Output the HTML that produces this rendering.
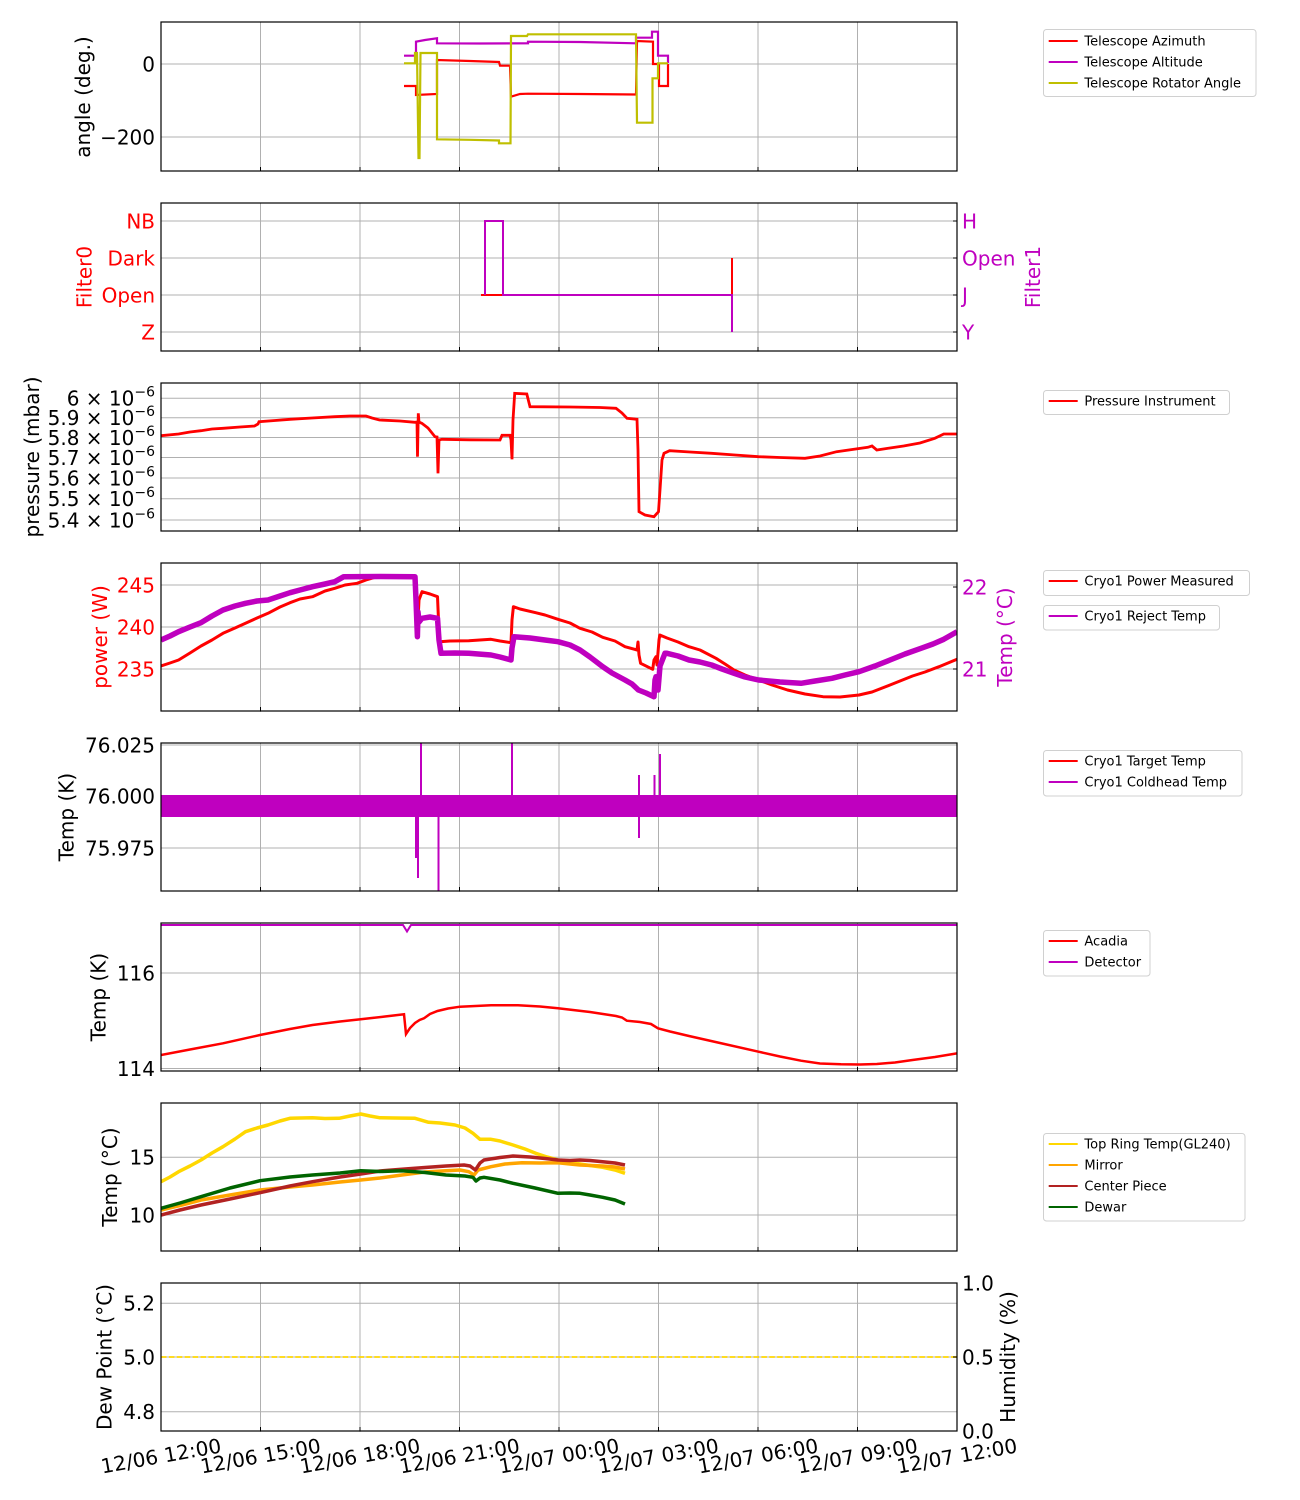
<!DOCTYPE html>
<html><head><meta charset="utf-8">
<style>
html,body{margin:0;padding:0;background:#fff;}
svg{display:block;font-family:"DejaVu Sans","Liberation Sans",sans-serif;}
.grid line{stroke:#b0b0b0;stroke-width:1;}
.frame{fill:none;stroke:#000;stroke-width:1.2;}
.tk{font-size:20px;}
.lg{font-size:13px;}
.lgbox{fill:#fff;stroke:#d0d0d0;stroke-width:1;}
</style></head>
<body>
<svg width="1300" height="1500" viewBox="0 0 1300 1500" xmlns="http://www.w3.org/2000/svg">
<defs>
<clipPath id="c1"><rect x="161" y="22" width="796" height="149"/></clipPath>
<clipPath id="c2"><rect x="161" y="203" width="796" height="148"/></clipPath>
<clipPath id="c3"><rect x="161" y="383" width="796" height="148"/></clipPath>
<clipPath id="c4"><rect x="161" y="563" width="796" height="148"/></clipPath>
<clipPath id="c5"><rect x="161" y="743" width="796" height="148"/></clipPath>
<clipPath id="c6"><rect x="161" y="923" width="796" height="148"/></clipPath>
<clipPath id="c7"><rect x="161" y="1103" width="796" height="148"/></clipPath>
<clipPath id="c8"><rect x="161" y="1283" width="796" height="148"/></clipPath>
</defs>
<rect width="1300" height="1500" fill="#fff"/>

<g class="grid">
<g id="vg">
<line x1="260.5" y1="22" x2="260.5" y2="171"/><line x1="360" y1="22" x2="360" y2="171"/><line x1="459.5" y1="22" x2="459.5" y2="171"/><line x1="559" y1="22" x2="559" y2="171"/><line x1="658.5" y1="22" x2="658.5" y2="171"/><line x1="758" y1="22" x2="758" y2="171"/><line x1="857.5" y1="22" x2="857.5" y2="171"/>
</g>
<use href="#vg" y="181"/><use href="#vg" y="361"/><use href="#vg" y="541"/><use href="#vg" y="721"/><use href="#vg" y="901"/><use href="#vg" y="1081"/><use href="#vg" y="1261"/>
<line x1="161" y1="64" x2="957" y2="64"/><line x1="161" y1="137" x2="957" y2="137"/>
<line x1="161" y1="221" x2="957" y2="221"/><line x1="161" y1="258" x2="957" y2="258"/><line x1="161" y1="295" x2="957" y2="295"/><line x1="161" y1="332" x2="957" y2="332"/>
<line x1="161" y1="398.3" x2="957" y2="398.3"/><line x1="161" y1="417.7" x2="957" y2="417.7"/><line x1="161" y1="437.5" x2="957" y2="437.5"/><line x1="161" y1="457.5" x2="957" y2="457.5"/><line x1="161" y1="478" x2="957" y2="478"/><line x1="161" y1="498.8" x2="957" y2="498.8"/><line x1="161" y1="520" x2="957" y2="520"/>
<line x1="161" y1="585" x2="957" y2="585"/><line x1="161" y1="627" x2="957" y2="627"/><line x1="161" y1="669" x2="957" y2="669"/>
<line x1="161" y1="745" x2="957" y2="745"/><line x1="161" y1="796" x2="957" y2="796"/><line x1="161" y1="848" x2="957" y2="848"/>
<line x1="161" y1="973" x2="957" y2="973"/><line x1="161" y1="1068.5" x2="957" y2="1068.5"/>
<line x1="161" y1="1157.3" x2="957" y2="1157.3"/><line x1="161" y1="1215" x2="957" y2="1215"/>
<line x1="161" y1="1303.3" x2="957" y2="1303.3"/><line x1="161" y1="1357" x2="957" y2="1357"/><line x1="161" y1="1411.7" x2="957" y2="1411.7"/>
</g>

<g clip-path="url(#c1)" fill="none" stroke-width="2.2" stroke-linejoin="miter">
<path stroke="#ff0000" d="M404,86 L416,86 L416,95 L437,94 L437,60 L470,61 L499,62 L500,65.7 L510,65.7 L511,96.7 L520,94 L528,93.7 L580,94 L636,94.5 L637,41 L653,41.7 L653,64 L659,64 L659,86 L668,86 L668,64"/>
<path stroke="#bf00bf" d="M404,55.7 L416,55.7 L416,41.7 L425,40 L437,38.3 L437,43.3 L480,43.5 L528,43.3 L528,41.7 L580,42 L636,43.3 L636,37.7 L652,37.7 L652,31.7 L658,31.7 L658,55.7 L668,55.7 L668,63"/>
<path stroke="#bfbf00" d="M404,63.3 L415,63.3 L415,53 L417,53 L418.5,158 L419.5,158 L420.5,53 L437,53 L437,139.3 L470,139.8 L499,140.5 L499,143.3 L510.5,143.3 L511,36 L527,36 L528,34.3 L636,34.3 L637,122.7 L652.5,122.7 L652.5,78.3 L658,78.3 L658,63.3 L668,63.3"/>
</g>

<g clip-path="url(#c2)" fill="none" stroke-width="2">
<path stroke="#ff0000" d="M481,295 L504,295 M732,295 L732,258"/>
<path stroke="#bf00bf" d="M485,295 L485,221 L503,221 L503,295 L732,295 L732,332"/>
</g>

<g clip-path="url(#c3)" fill="none" stroke-width="2.8">
<path stroke="#ff0000" d="M161,435.7 L178.6,434 L190,432 L201,430.7 L212,429 L223,428.3 L240,427 L254.5,426 L258,424 L259,421.7 L275,420.5 L290,419.3 L312,418 L334.8,416.7 L350,416 L366,416 L372,418 L379.5,420 L400,421 L415,422.3 L417,422 L417.5,456.7 L418.3,413.3 L419,422 L421.9,423.3 L428,428 L435,436.7 L437,437 L438,473.3 L439,440 L442,439.3 L470,439.8 L500,440 L502,435.3 L510,435.3 L511,440 L512,459.3 L513,420 L514.7,393.3 L526.8,394 L530,406.7 L570,407 L600,407.5 L616,408.3 L622,413 L627,418.3 L637,419.3 L638,450 L639,511.7 L645,515 L654,516.7 L658.5,511.7 L660,490 L662,460 L664,453.3 L669.6,450.7 L690,452 L711.6,453.3 L735,455 L758.5,456.7 L780,457.5 L805,458.3 L820,456 L836.6,451.7 L867.9,447.3 L872,446 L876.8,450 L890,448 L903.6,446 L920,443 L934.8,438.3 L943.8,434 L957,434"/>
</g>

<g clip-path="url(#c4)" fill="none" stroke-linejoin="round">
<path stroke="#ff0000" stroke-width="3" d="M161,666 L170,663 L178.6,660 L190,653 L201,646 L212,640 L223,633.3 L235,628 L245.5,623.3 L257,618 L268,613.3 L280,607 L290,602.7 L300,599 L312.5,596.7 L325,591 L334.8,588.3 L345,585 L357,583.3 L366,580 L375,577.3 L395,577 L415,576.7 L416,580 L417.4,633 L419,600 L422,591.7 L430,594 L437.5,596.7 L438.5,620 L439.7,641.7 L450,641 L468.75,640.7 L491,639.3 L500,641 L511,642.7 L512,620 L513.4,606.7 L520,609 L535.7,612.7 L545,615 L558,619.3 L570,623 L580,628.3 L592,632 L602.7,637.3 L615,641 L625,646.7 L637,650 L638,642 L639,655 L640.6,663.3 L652.7,669.3 L654,660 L656,656.7 L657,665 L659,640 L659.8,635 L667,638 L678,642 L689,646.7 L700,650 L716,658.3 L725,664 L734,670 L745,675 L758.5,680 L772,685 L787.5,690 L805,694 L823,696.7 L840,697 L859,695 L872,692 L890,685 L900,681 L912.5,676 L925,672 L939,666.7 L948,663 L957,659.3"/>
<path stroke="#bf00bf" stroke-width="5.5" d="M161,640 L170,636 L178.6,631.7 L190,627 L201,622.7 L212,616 L223,610 L235,606 L245.5,603.3 L257,601 L268,600 L280,596 L290,592.7 L300,590 L312.5,586.7 L325,584 L334.8,581.7 L343.75,576.7 L380,576.5 L415,576.7 L416,600 L417.4,636.7 L418,612 L419,622 L422,618.3 L430,617 L437.5,618.3 L439,640 L441,653.3 L455,653 L468.75,653.3 L491,655 L500,657 L511,660 L512,648 L514,636.7 L530,638 L545,640 L558,641.7 L570,645 L580,650 L590,657 L602.7,666.7 L612,673 L625,680 L632,684 L638.4,690 L646,693 L654,696.7 L655,680 L656,676.7 L658,690 L660,666 L665,653.3 L667,653.3 L678,656 L689,660 L700,662 L711.6,665 L722,669 L734,673.3 L745,677 L758.5,680 L780,682 L801,683.3 L815,681 L832,678.3 L845,675 L859,671.7 L875,666 L890,660 L905,654 L921,648.3 L933,644 L943.75,639.3 L957,631.7"/>
</g>

<g clip-path="url(#c5)">
<rect x="161" y="795" width="796" height="22" fill="#bf00bf"/>
<path fill="none" stroke="#bf00bf" stroke-width="2" d="M421,743 L421,795 M416,817 L416,858 M418,817 L418,878 M438.5,817 L438.5,891 M512,743 L512,795 M639,775 L639,795 M639,817 L639,838 M654.5,775 L654.5,795 M660,754 L660,795"/>
</g>

<g clip-path="url(#c6)" fill="none">
<path stroke="#ff0000" stroke-width="2.5" d="M161,1055 L190,1049.5 L223,1043.3 L260,1035 L290,1029 L312.5,1025 L340,1021.5 L360.7,1019.3 L385,1016.5 L404,1014.3 L406,1034 L410,1028 L415,1023 L419.6,1020 L424,1018.3 L430,1014 L437.5,1011 L448,1008.5 L460,1006.7 L491,1005.3 L518,1005.3 L540,1006.5 L558,1008.3 L590,1012 L616,1016 L622,1017.5 L626.8,1020.7 L640,1022 L651,1024 L658,1028.3 L670,1031.5 L689,1036 L720,1043 L758.5,1051.7 L780,1056.5 L801,1060.7 L820,1063.5 L841,1064.3 L860,1064.5 L876.8,1064 L895,1062.5 L912.5,1060 L935,1057 L957,1053.3"/>
<path stroke="#bf00bf" stroke-width="2" d="M161,925 L403,925 L407,931.5 L411,925 L957,925"/>
</g>

<g clip-path="url(#c7)" fill="none" stroke-width="3.5" stroke-linejoin="round">
<path stroke="#ffd700" d="M161,1181.7 L170,1177 L178.6,1171.7 L190,1166 L201,1160 L212,1153 L223,1146.7 L235,1139 L245.5,1131.7 L257,1128 L268,1125 L280,1121 L290,1118.3 L300,1118 L312.5,1117.7 L325,1118.5 L339,1118.3 L350,1116 L360.7,1114 L370,1116 L379.5,1117.7 L395,1118 L415,1118.3 L428.6,1122.3 L440,1123 L455,1125 L465,1128 L473,1133.3 L480,1139.3 L491,1139.3 L500,1141 L513,1145 L525,1149 L535.7,1153.3 L547,1157 L558,1160 L570,1162.5 L580,1164 L590,1165.5 L602.7,1167.3 L615,1170 L625,1173.3"/>
<path stroke="#ffa500" d="M161,1210 L180,1205.5 L201,1200 L230,1195 L260,1190 L290,1187 L312.5,1185 L340,1182 L360.7,1180 L380,1178 L401.8,1175 L425,1172 L446,1170.7 L460,1170 L468.75,1171.7 L474,1175 L478,1170 L491,1166.7 L505,1164 L522,1162.7 L540,1163 L558,1162.7 L570,1164 L580,1165 L602.7,1166 L615,1167 L625,1169"/>
<path stroke="#b22222" d="M161,1215 L180,1210 L201,1205 L230,1199 L260,1192.7 L290,1186 L312.5,1181.7 L340,1177 L360.7,1174 L380,1171 L401.8,1169.3 L425,1167.5 L446,1166 L464,1165 L470,1166 L475.4,1170 L480,1163 L484,1160 L500,1157.5 L513,1156 L530,1157 L545,1158.5 L558,1160 L570,1160.5 L580,1160 L590,1160.5 L602.7,1161.7 L615,1163 L625,1165"/>
<path stroke="#006400" d="M161,1208.3 L180,1203 L201,1196.7 L230,1188 L260,1180.7 L290,1177 L312.5,1175 L340,1173 L360.7,1170.7 L380,1171.5 L401.8,1170.7 L425,1172.5 L446,1175 L465,1176 L473,1177.3 L476,1181 L480,1178 L484,1177.3 L500,1180 L513,1183.3 L535,1188 L558,1193.3 L570,1193 L580,1193.3 L590,1195 L602.7,1197.3 L615,1200 L625,1204"/>
</g>

<g clip-path="url(#c8)">
<line x1="161" y1="1357" x2="957" y2="1357" stroke="#ffd700" stroke-width="1.8" stroke-dasharray="5.5 2.4"/>
</g>

<g class="frame">
<rect x="161" y="22" width="796" height="149"/>
<rect x="161" y="203" width="796" height="148"/>
<rect x="161" y="383" width="796" height="148"/>
<rect x="161" y="563" width="796" height="148"/>
<rect x="161" y="743" width="796" height="148"/>
<rect x="161" y="923" width="796" height="148"/>
<rect x="161" y="1103" width="796" height="148"/>
<rect x="161" y="1283" width="796" height="148"/>
</g>

<g stroke="#000" stroke-width="1">
<g id="bt"><line x1="260.5" y1="171" x2="260.5" y2="167"/><line x1="360" y1="171" x2="360" y2="167"/><line x1="459.5" y1="171" x2="459.5" y2="167"/><line x1="559" y1="171" x2="559" y2="167"/><line x1="658.5" y1="171" x2="658.5" y2="167"/><line x1="758" y1="171" x2="758" y2="167"/><line x1="857.5" y1="171" x2="857.5" y2="167"/></g>
<use href="#bt" y="180"/><use href="#bt" y="360"/><use href="#bt" y="540"/><use href="#bt" y="720"/><use href="#bt" y="900"/><use href="#bt" y="1080"/><use href="#bt" y="1260"/>
<line x1="957" y1="221" x2="953" y2="221"/><line x1="957" y1="258" x2="953" y2="258"/><line x1="957" y1="295" x2="953" y2="295"/><line x1="957" y1="332" x2="953" y2="332"/>
<line x1="957" y1="587" x2="953" y2="587"/><line x1="957" y1="669" x2="953" y2="669"/>
<line x1="957" y1="1357" x2="953" y2="1357"/>
</g>

<g class="tk" text-anchor="end" fill="#000">
<text x="155" y="71.3">0</text>
<text x="155" y="144.3">−200</text>
</g>
<g class="tk" text-anchor="end" fill="#ff0000">
<text x="155" y="228.3">NB</text>
<text x="155" y="265.3">Dark</text>
<text x="155" y="302.3">Open</text>
<text x="155" y="339.3">Z</text>
</g>
<g class="tk" text-anchor="start" fill="#bf00bf">
<text x="962" y="228.3">H</text>
<text x="962" y="265.3">Open</text>
<text x="962" y="302.3">J</text>
<text x="962" y="339.3">Y</text>
</g>
<g class="tk" text-anchor="end" fill="#000">
<text x="155" y="405.6">6 × 10<tspan font-size="14" dy="-9">−6</tspan></text>
<text x="155" y="425">5.9 × 10<tspan font-size="14" dy="-9">−6</tspan></text>
<text x="155" y="444.8">5.8 × 10<tspan font-size="14" dy="-9">−6</tspan></text>
<text x="155" y="464.8">5.7 × 10<tspan font-size="14" dy="-9">−6</tspan></text>
<text x="155" y="485.3">5.6 × 10<tspan font-size="14" dy="-9">−6</tspan></text>
<text x="155" y="506.1">5.5 × 10<tspan font-size="14" dy="-9">−6</tspan></text>
<text x="155" y="527.3">5.4 × 10<tspan font-size="14" dy="-9">−6</tspan></text>
</g>
<g class="tk" text-anchor="end" fill="#ff0000">
<text x="155" y="592.3">245</text>
<text x="155" y="634.3">240</text>
<text x="155" y="676.3">235</text>
</g>
<g class="tk" text-anchor="start" fill="#bf00bf">
<text x="962" y="594.3">22</text>
<text x="962" y="676.3">21</text>
</g>
<g class="tk" text-anchor="end" fill="#000">
<text x="155" y="752.3">76.025</text>
<text x="155" y="803.3">76.000</text>
<text x="155" y="855.3">75.975</text>
<text x="155" y="980.3">116</text>
<text x="155" y="1075.8">114</text>
<text x="155" y="1164.6">15</text>
<text x="155" y="1222.3">10</text>
<text x="155" y="1310.6">5.2</text>
<text x="155" y="1364.3">5.0</text>
<text x="155" y="1419">4.8</text>
</g>
<g class="tk" text-anchor="start" fill="#000">
<text x="962" y="1290.3">1.0</text>
<text x="962" y="1364.3">0.5</text>
<text x="962" y="1438.3">0.0</text>
</g>

<g class="tk" text-anchor="middle" dominant-baseline="central" fill="#000">
<text x="161" y="1456" transform="rotate(-10 161 1456)">12/06 12:00</text>
<text x="260.5" y="1456" transform="rotate(-10 260.5 1456)">12/06 15:00</text>
<text x="360" y="1456" transform="rotate(-10 360 1456)">12/06 18:00</text>
<text x="459.5" y="1456" transform="rotate(-10 459.5 1456)">12/06 21:00</text>
<text x="559" y="1456" transform="rotate(-10 559 1456)">12/07 00:00</text>
<text x="658.5" y="1456" transform="rotate(-10 658.5 1456)">12/07 03:00</text>
<text x="758" y="1456" transform="rotate(-10 758 1456)">12/07 06:00</text>
<text x="857.5" y="1456" transform="rotate(-10 857.5 1456)">12/07 09:00</text>
<text x="957" y="1456" transform="rotate(-10 957 1456)">12/07 12:00</text>
</g>

<g class="tk" text-anchor="middle" dominant-baseline="central">
<text x="83" y="97" transform="rotate(-90 83 97)" fill="#000">angle (deg.)</text>
<text x="84.5" y="277" transform="rotate(-90 84.5 277)" fill="#ff0000">Filter0</text>
<text x="1033" y="277" transform="rotate(-90 1033 277)" fill="#bf00bf">Filter1</text>
<text x="32" y="457" transform="rotate(-90 32 457)" fill="#000">pressure (mbar)</text>
<text x="100" y="637" transform="rotate(-90 100 637)" fill="#ff0000">power (W)</text>
<text x="1005" y="637" transform="rotate(-90 1005 637)" fill="#bf00bf">Temp (°C)</text>
<text x="66.5" y="817" transform="rotate(-90 66.5 817)" fill="#000">Temp (K)</text>
<text x="98.5" y="997" transform="rotate(-90 98.5 997)" fill="#000">Temp (K)</text>
<text x="110" y="1177" transform="rotate(-90 110 1177)" fill="#000">Temp (°C)</text>
<text x="104.5" y="1357" transform="rotate(-90 104.5 1357)" fill="#000">Dew Point (°C)</text>
<text x="1008" y="1357" transform="rotate(-90 1008 1357)" fill="#000">Humidity (%)</text>
</g>

<g class="lg">
<rect class="lgbox" x="1043.5" y="29.5" width="212.5" height="67" rx="3"/>
<line x1="1048.7" y1="41" x2="1077.7" y2="41" stroke="#ff0000" stroke-width="2"/><text x="1084.4" y="45.5">Telescope Azimuth</text>
<line x1="1048.7" y1="62" x2="1077.7" y2="62" stroke="#bf00bf" stroke-width="2"/><text x="1084.4" y="66.5">Telescope Altitude</text>
<line x1="1048.7" y1="83" x2="1077.7" y2="83" stroke="#bfbf00" stroke-width="2"/><text x="1084.4" y="87.5">Telescope Rotator Angle</text>

<rect class="lgbox" x="1043.5" y="390.5" width="186" height="24" rx="3"/>
<line x1="1048.7" y1="401" x2="1077.7" y2="401" stroke="#ff0000" stroke-width="2"/><text x="1084.4" y="405.5">Pressure Instrument</text>

<rect class="lgbox" x="1043.5" y="570.5" width="206" height="25" rx="3"/>
<line x1="1048.7" y1="581" x2="1077.7" y2="581" stroke="#ff0000" stroke-width="2"/><text x="1084.4" y="585.5">Cryo1 Power Measured</text>
<rect class="lgbox" x="1043.5" y="605.5" width="176" height="24.5" rx="3"/>
<line x1="1048.7" y1="616" x2="1077.7" y2="616" stroke="#bf00bf" stroke-width="2"/><text x="1084.4" y="620.5">Cryo1 Reject Temp</text>

<rect class="lgbox" x="1043.5" y="750.5" width="198.5" height="45.5" rx="3"/>
<line x1="1048.7" y1="761" x2="1077.7" y2="761" stroke="#ff0000" stroke-width="2"/><text x="1084.4" y="765.5">Cryo1 Target Temp</text>
<line x1="1048.7" y1="782" x2="1077.7" y2="782" stroke="#bf00bf" stroke-width="2"/><text x="1084.4" y="786.5">Cryo1 Coldhead Temp</text>

<rect class="lgbox" x="1043.5" y="930.5" width="106.5" height="45.5" rx="3"/>
<line x1="1048.7" y1="941" x2="1077.7" y2="941" stroke="#ff0000" stroke-width="2"/><text x="1084.4" y="945.5">Acadia</text>
<line x1="1048.7" y1="962" x2="1077.7" y2="962" stroke="#bf00bf" stroke-width="2"/><text x="1084.4" y="966.5">Detector</text>

<rect class="lgbox" x="1043.5" y="1133.5" width="201.5" height="87.5" rx="3"/>
<line x1="1048.7" y1="1144" x2="1077.7" y2="1144" stroke="#ffd700" stroke-width="2"/><text x="1084.4" y="1148.5">Top Ring Temp(GL240)</text>
<line x1="1048.7" y1="1165" x2="1077.7" y2="1165" stroke="#ffa500" stroke-width="2"/><text x="1084.4" y="1169.5">Mirror</text>
<line x1="1048.7" y1="1186" x2="1077.7" y2="1186" stroke="#b22222" stroke-width="2"/><text x="1084.4" y="1190.5">Center Piece</text>
<line x1="1048.7" y1="1207" x2="1077.7" y2="1207" stroke="#006400" stroke-width="2"/><text x="1084.4" y="1211.5">Dewar</text>
</g>
</svg>
</body></html>
